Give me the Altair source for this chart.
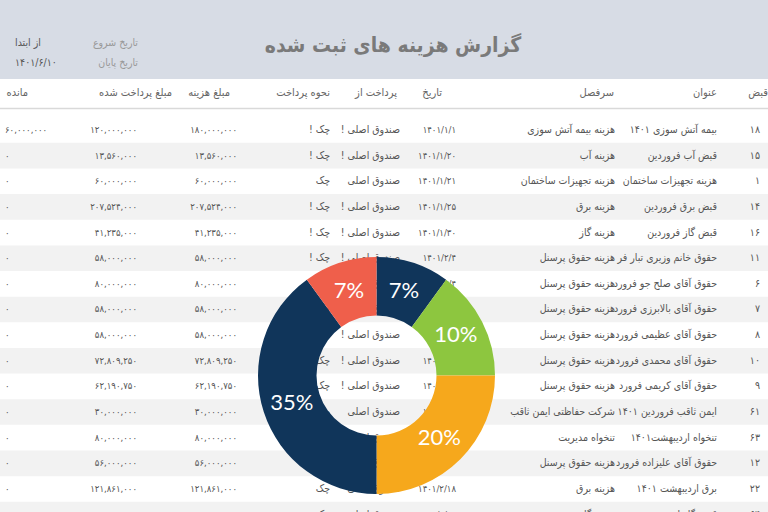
import altair as alt
import pandas as pd

RLM = "\u200f"

# ---------------- table data ----------------
ids = ["۱۸", "۱۵", "۱", "۱۴", "۱۶", "۱۱", "۶", "۷", "۸", "۱۰", "۹", "۶۱", "۶۳", "۱۲", "۲۲", "۶۴"]
titles = ["بیمه آتش سوزی ۱۴۰۱", "قبض آب فروردین", "هزینه تجهیزات ساختمان", "قبض برق فروردین",
          "قبض گاز فروردین", "حقوق خانم وزیری تبار فروردین", "حقوق آقای صلح جو فروردین",
          "حقوق آقای بالابرزی فروردین", "حقوق آقای عظیمی فروردین", "حقوق آقای محمدی فروردین",
          "حقوق آقای کریمی فروردین", "ایمن ثاقب فروردین ۱۴۰۱", "تنخواه اردیبهشت۱۴۰۱",
          "حقوق آقای علیزاده فروردین", "برق اردیبهشت ۱۴۰۱", "قبض گاز اردیبهشت"]
heads = ["هزینه بیمه آتش سوزی", "هزینه آب", "هزینه تجهیزات ساختمان", "هزینه برق", "هزینه گاز",
         "هزینه حقوق پرسنل", "هزینه حقوق پرسنل", "هزینه حقوق پرسنل", "هزینه حقوق پرسنل",
         "هزینه حقوق پرسنل", "هزینه حقوق پرسنل", "شرکت حفاظتی ایمن ثاقب", "تنخواه مدیریت",
         "هزینه حقوق پرسنل", "هزینه برق", "هزینه گاز"]
dates = ["۱۴۰۱/۱/۱", "۱۴۰۱/۱/۲۰", "۱۴۰۱/۱/۲۱", "۱۴۰۱/۱/۲۵", "۱۴۰۱/۱/۳۰", "۱۴۰۱/۲/۴",
         "۱۴۰۱/۲/۴", "۱۴۰۱/۲/۴", "۱۴۰۱/۲/۴", "۱۴۰۱/۲/۴", "۱۴۰۱/۲/۴", "۱۴۰۱/۲/۵",
         "۱۴۰۱/۲/۱۰", "۱۴۰۱/۲/۱۰", "۱۴۰۱/۲/۱۸", "۱۴۰۱/۲/۱۸"]
sources = ["صندوق اصلی !", "صندوق اصلی !", "صندوق اصلی", "صندوق اصلی !", "صندوق اصلی !",
           "صندوق اصلی !", "صندوق اصلی !", "صندوق اصلی !", "صندوق اصلی !", "صندوق اصلی !",
           "صندوق اصلی !", "صندوق اصلی", "صندوق اصلی", "صندوق اصلی", "صندوق اصلی", "صندوق اصلی"]
pay_types = ["چک !", "چک !", "چک", "چک !", "چک !", "چک !", "چک !", "چک !", "چک !", "چک !",
             "چک !", "چک", "چک", "چک", "چک", "چک"]
amounts = ["۱۸۰,۰۰۰,۰۰۰", "۱۳,۵۶۰,۰۰۰", "۶۰,۰۰۰,۰۰۰", "۲۰۷,۵۲۴,۰۰۰", "۴۱,۲۳۵,۰۰۰",
           "۵۸,۰۰۰,۰۰۰", "۸۰,۰۰۰,۰۰۰", "۵۸,۰۰۰,۰۰۰", "۵۸,۰۰۰,۰۰۰", "۷۲,۸۰۹,۲۵۰",
           "۶۲,۱۹۰,۷۵۰", "۳۰,۰۰۰,۰۰۰", "۸۰,۰۰۰,۰۰۰", "۵۶,۰۰۰,۰۰۰", "۱۲۱,۸۶۱,۰۰۰", "۳۸,۴۰۰,۰۰۰"]
paid = ["۱۲۰,۰۰۰,۰۰۰", "۱۳,۵۶۰,۰۰۰", "۶۰,۰۰۰,۰۰۰", "۲۰۷,۵۲۴,۰۰۰", "۴۱,۲۳۵,۰۰۰",
        "۵۸,۰۰۰,۰۰۰", "۸۰,۰۰۰,۰۰۰", "۵۸,۰۰۰,۰۰۰", "۵۸,۰۰۰,۰۰۰", "۷۲,۸۰۹,۲۵۰",
        "۶۲,۱۹۰,۷۵۰", "۳۰,۰۰۰,۰۰۰", "۸۰,۰۰۰,۰۰۰", "۵۶,۰۰۰,۰۰۰", "۱۲۱,۸۶۱,۰۰۰", "۳۸,۴۰۰,۰۰۰"]
remaining = ["۶۰,۰۰۰,۰۰۰"] + ["۰"] * 15

header_labels = ["قبض", "عنوان", "سرفصل", "تاریخ", "پرداخت از", "نحوه پرداخت",
                 "مبلغ هزینه", "مبلغ پرداخت شده", "مانده"]
report_title = "گزارش هزینه های ثبت شده"
info_labels = ["از ابتدا", "۱۴۰۱/۶/۱۰", "تاریخ شروع", "تاریخ پایان"]

# ---------------- donut data ----------------
slice_names = ["s1", "s2", "s3", "s4", "s5"]
slice_values = [10, 15, 25, 40, 10]
slice_labels = ["7%", "10%", "20%", "35%", "7%"]
slice_colors = ["#10355a", "#8dc63f", "#f6a81c", "#10355a", "#ef5f4b"]

# ---------------- layout (pixel anchors of columns) ----------------
cell_right_x = {"id": 760, "head": 615, "date": 456, "src": 400,
                "type": 330, "amt": 237, "paid": 137}
title_right_x = 717
remaining_left_x = 5
header_right_x = [768, 717, 614, 442, 397, 330, 230, 172, 28]
ROW_PX = 25.64
FIRST_ROW_PX = 130
HEADER_PX = 93
H = 512
W = 768

y_domain = [-FIRST_ROW_PX / ROW_PX, (H - FIRST_ROW_PX) / ROW_PX]
xs = alt.Scale(domain=[0, W], nice=False, zero=False)
ys = alt.Scale(domain=y_domain, reverse=True, nice=False, zero=False)

text_cols = {"id": ids, "head": heads, "src": sources, "type": pay_types}
num_cols = {"date": dates, "amt": amounts, "paid": paid}


def long_df(colmap):
    recs = []
    for c, vals in colmap.items():
        for i, v in enumerate(vals):
            recs.append({"row": i, "x": cell_right_x[c], "text": v + RLM})
    return pd.DataFrame(recs)


text_cells = long_df(text_cols)
num_cells = long_df(num_cols)
title_cells = pd.DataFrame({"row": list(range(len(titles))), "x": title_right_x, "text": titles})
rem = pd.DataFrame({"row": list(range(len(remaining))), "x": remaining_left_x,
                    "text": remaining})
hdr = pd.DataFrame({"row": (HEADER_PX - FIRST_ROW_PX) / ROW_PX, "x": header_right_x,
                    "text": header_labels})
stripes = pd.DataFrame({"y0": [i - 0.5 for i in range(1, len(ids), 2)],
                        "y1": [i + 0.5 for i in range(1, len(ids), 2)]})
donut = pd.DataFrame({"name": slice_names, "value": slice_values, "label": slice_labels,
                      "idx": list(range(len(slice_names)))})

FONT = "DejaVu Sans Condensed, DejaVu Sans"
TXT = "#555555"

band = alt.Chart(pd.DataFrame({"a": [0]})).mark_rect(color="#d7dce5").encode(
    x=alt.value(0), x2=alt.value(W), y=alt.value(0), y2=alt.value(79))

stripe = alt.Chart(stripes).mark_rect(color="#f2f2f2").encode(
    x=alt.value(0), x2=alt.value(W),
    y=alt.Y("y0:Q", scale=ys, axis=None), y2="y1:Q")

sep = alt.Chart(pd.DataFrame({"a": [0]})).mark_rule(color="#d9d9d9", strokeWidth=1.5).encode(
    x=alt.value(0), x2=alt.value(W), y=alt.value(108.5))

title = alt.Chart(pd.DataFrame({"t": [report_title]})).mark_text(
    font=FONT, fontSize=21, fontWeight="bold", color="#7a7a7a", align="center",
    baseline="middle").encode(text="t:N", x=alt.value(393), y=alt.value(46))


def info(txt, x, y, color, align):
    return alt.Chart(pd.DataFrame({"t": [txt]})).mark_text(
        font=FONT, fontSize=10.5, color=color, align=align, baseline="middle").encode(
        text="t:N", x=alt.value(x), y=alt.value(y))


info1 = info(info_labels[0], 15, 43, "#555555", "left")
info2 = info(info_labels[1], 15, 63, "#555555", "left")
info3 = info(info_labels[2], 138, 43, "#999999", "right")
info4 = info(info_labels[3], 138, 63, "#999999", "right")

enc = dict(x=alt.X("x:Q", scale=xs, axis=None), y=alt.Y("row:Q", scale=ys, axis=None),
           text="text:N")

header = alt.Chart(hdr).mark_text(font=FONT, fontSize=11, color="#666666",
                                  align="right", baseline="middle").encode(**enc)

text_layer = alt.Chart(text_cells).mark_text(font=FONT, fontSize=10.5, color=TXT,
                                             align="right", baseline="middle").encode(**enc)
title_layer = alt.Chart(title_cells).mark_text(font=FONT, fontSize=10.5, color=TXT,
                                               align="right", baseline="middle",
                                               limit=104, ellipsis="\u200b").encode(**enc)
num_layer = alt.Chart(num_cells).mark_text(font=FONT, fontSize=9.5, color=TXT,
                                           align="right", baseline="middle").encode(**enc)
rem_layer = alt.Chart(rem).mark_text(font=FONT, fontSize=9.5, color=TXT,
                                     align="left", baseline="middle").encode(**enc)

CX, CY = 376.5, 375.5
arcs = alt.Chart(donut).mark_arc(innerRadius=60, outerRadius=118.5).encode(
    theta=alt.Theta("value:Q", stack=True),
    color=alt.Color("name:N", scale=alt.Scale(domain=slice_names, range=slice_colors), legend=None),
    order=alt.Order("idx:Q"),
    x=alt.value(CX), y=alt.value(CY))

labels = alt.Chart(donut).mark_text(radius=89, font="Lato", fontSize=22, color="white",
                                    align="center", baseline="middle").encode(
    theta=alt.Theta("value:Q", stack=True),
    order=alt.Order("idx:Q"),
    text="label:N",
    x=alt.value(CX), y=alt.value(CY))

chart = alt.layer(band, stripe, sep, title, info1, info2, info3, info4, header,
                  title_layer, text_layer, num_layer, rem_layer, arcs, labels).properties(
    width=W, height=H, autosize=alt.AutoSizeParams(type="none"), padding=0,
    background="white"
).configure_view(stroke=None)

chart.save("out.html", embed_options={"renderer": "svg", "actions": False})
